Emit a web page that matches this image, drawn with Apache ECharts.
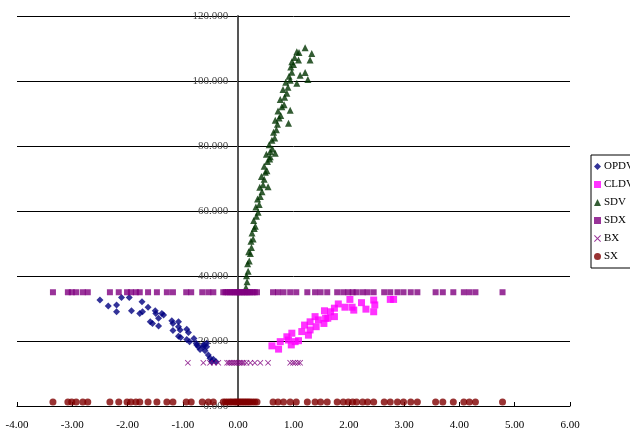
<!DOCTYPE html>
<html>
<head>
<meta charset="utf-8">
<script src="https://cdn.jsdelivr.net/npm/echarts@6/dist/echarts.min.js"></script>
<style>
  html, body { margin: 0; padding: 0; background: #fff; }
  #chart { width: 630px; height: 432px; }
</style>
</head>
<body>
<div id="chart"></div>
<script>
// Axis tick settings
const xTicks = { min: -4, max: 6, step: 1 };
const yTicks = { min: 0, max: 120, step: 20 };

// Opening (OPDV) points: [x, y]
const opdv = [
  [-2.50,32.6],[-2.35,30.8],[-2.20,31.1],[-2.20,29.0],[-2.11,33.4],[-1.97,33.4],
  [-1.93,29.3],[-1.74,32.1],[-1.78,28.5],[-1.73,29.0],[-1.63,30.4],[-1.50,29.3],
  [-1.49,28.5],[-1.59,25.9],[-1.55,25.4],[-1.44,27.0],[-1.44,24.6],[-1.38,28.5],
  [-1.35,28.0],[-1.20,26.2],[-1.18,25.4],[-1.18,23.2],[-1.08,25.9],[-1.08,24.4],
  [-1.05,23.4],[-1.08,21.5],[-1.04,21.1],[-0.93,23.6],[-0.90,22.6],[-0.93,20.5],
  [-0.88,19.8],[-0.80,20.8],[-0.76,19.3],[-0.72,18.2],[-0.63,18.8],[-0.69,17.4],
  [-0.60,17.0],[-0.54,15.7],[-0.51,14.7],[-0.45,14.4],[-0.40,13.6],[-0.48,13.6],
  [-0.57,18.2],[-0.63,18.2],[-0.57,19.3],[-0.75,18.8]
];

// Closing (CLDV) points: [x, y]
const cldv = [
  [0.61,18.5],[0.73,17.5],[0.76,19.8],[0.88,21.3],[0.91,20.3],[0.96,18.8],
  [0.97,22.4],[1.03,19.8],[1.09,20.1],[1.15,22.9],[1.20,24.9],[1.27,21.8],
  [1.30,23.4],[1.30,25.9],[1.39,27.5],[1.41,24.4],[1.45,26.5],[1.55,25.4],
  [1.58,27.0],[1.56,29.3],[1.62,27.0],[1.67,29.0],[1.74,27.5],[1.74,30.1],
  [1.81,31.4],[1.93,30.4],[2.02,32.8],[2.06,30.4],[2.09,29.5],[2.23,31.8],
  [2.31,29.8],[2.45,32.6],[2.47,31.1],[2.45,29.0],[2.75,32.8],[2.81,32.8]
];

// SDV points: [x, y]
const sdv = [
  [0.14,36.5],[0.16,38.2],[0.15,40.1],[0.18,41.5],[0.17,43.8],[0.20,44.6],
  [0.22,46.9],[0.19,47.5],[0.24,48.8],[0.23,50.7],[0.27,51.4],[0.25,53.2],
  [0.29,54.6],[0.31,55.3],[0.28,57.1],[0.33,58.4],[0.36,59.6],[0.32,61.2],
  [0.38,62.0],[0.35,63.7],[0.40,64.5],[0.43,65.9],[0.39,67.3],[0.54,67.5],
  [0.45,68.1],[0.47,69.8],[0.42,70.6],[0.49,71.9],[0.52,72.4],[0.47,73.8],
  [0.53,75.2],[0.57,76.0],[0.58,76.7],[0.67,77.8],[0.51,77.5],[0.58,78.3],
  [0.62,79.1],[0.56,80.4],[0.61,81.8],[0.66,82.5],[0.64,84.2],[0.69,85.0],
  [0.71,86.7],[0.91,87.0],[0.67,87.9],[0.74,88.6],[0.77,89.4],[0.72,90.8],
  [0.94,91.0],[0.79,92.1],[0.83,92.7],[0.76,94.3],[0.84,95.0],[0.88,96.2],
  [0.81,97.4],[0.90,98.1],[0.86,99.6],[0.94,100.2],[1.06,99.3],[0.92,101.5],
  [1.12,101.8],[0.97,102.7],[1.21,102.6],[1.26,100.5],[0.95,104.3],[1.00,105.1],
  [0.97,105.9],[1.09,106.5],[1.02,107.2],[1.30,106.5],[1.33,108.5],[1.06,109.0],
  [1.10,108.8],[1.21,110.2]
];

// Station positions shared by the SDX and SX rows
const stationX = [
  -3.35,-3.08,-3.01,-2.93,-2.81,-2.72,-2.32,-2.16,-2.01,-1.94,-1.85,-1.78,
  -1.63,-1.47,-1.29,-1.18,-0.94,-0.85,-0.65,-0.54,-0.45,
  -0.27,-0.23,-0.19,-0.15,-0.12,-0.08,-0.05,-0.02,0.01,0.04,0.07,0.10,
  0.13,0.16,0.19,0.22,0.26,0.30,0.34,
  0.63,0.72,0.82,0.94,1.05,1.25,1.39,1.49,1.61,1.79,1.90,1.99,2.07,2.14,
  2.25,2.34,2.45,2.64,2.75,2.88,2.99,3.12,3.24,3.57,3.70,3.89,4.08,4.18,
  4.29,4.78
];
const sdxLevel = 35;
const sxLevel = 1.2;

// BX positions
const bxX = [
  -0.91,-0.63,-0.51,-0.44,-0.36,
  -0.20,-0.17,-0.14,-0.11,-0.08,-0.05,-0.02,0.01,0.04,0.07,0.10,
  0.15,0.22,0.30,0.40,0.54,0.94,0.99,1.03,1.08,1.12
];
const bxLevel = 13.3;

const seriesNames = ['OPDV', 'CLDV', 'SDV', 'SDX', 'BX', 'SX'];

const xMark = 'path://M0,1L1,0L5,4L9,0L10,1L6,5L10,9L9,10L5,6L1,10L0,9L4,5Z';
const font = 'Liberation Serif, Times New Roman, serif';
const gridLeft = 17;

const chart = echarts.init(document.getElementById('chart'), null, { renderer: 'canvas' });

chart.setOption({
  animation: false,
  backgroundColor: '#ffffff',
  grid: { left: gridLeft, right: 60, top: 16, bottom: 26, containLabel: false, outerBoundsMode: 'none' },
  legend: {
    orient: 'vertical',
    left: 591,
    top: 155,
    padding: [6, 40, 6, 3],
    borderColor: '#000',
    borderWidth: 1,
    itemWidth: 7,
    itemHeight: 7,
    itemGap: 7,
    data: seriesNames,
    textStyle: { fontFamily: font, fontSize: 11, color: '#000', padding: [0, 0, 0, -2] }
  },
  xAxis: {
    type: 'value',
    min: xTicks.min,
    max: xTicks.max,
    interval: xTicks.step,
    axisLine: { onZero: false, lineStyle: { color: '#000', width: 1 } },
    axisTick: { show: true, inside: true, length: 4, lineStyle: { color: '#000' } },
    axisLabel: {
      margin: 14,
      fontFamily: font,
      fontSize: 11,
      color: '#000',
      formatter: v => v.toFixed(2)
    },
    splitLine: { show: false }
  },
  yAxis: {
    type: 'value',
    min: yTicks.min,
    max: yTicks.max,
    interval: yTicks.step,
    axisLine: { show: true, onZero: false, lineStyle: { color: '#555', width: 2 } },
    axisTick: { show: true, inside: true, length: 4, lineStyle: { color: '#000' } },
    axisLabel: {
      margin: 10,
      fontFamily: font,
      fontSize: 11,
      color: '#444',
      formatter: v => v.toFixed(3)
    },
    splitLine: { show: true, lineStyle: { color: '#000', width: 1 } }
  },
  series: [
    {
      name: 'OPDV', type: 'scatter', symbol: 'diamond', symbolSize: 7,
      itemStyle: { color: '#000080' }, data: opdv
    },
    {
      name: 'CLDV', type: 'scatter', symbol: 'rect', symbolSize: 7,
      itemStyle: { color: '#ff00ff' }, data: cldv
    },
    {
      name: 'SDV', type: 'scatter', symbol: 'triangle', symbolSize: 7,
      itemStyle: { color: '#003300' }, data: sdv
    },
    {
      name: 'SDX', type: 'scatter', symbol: 'rect', symbolSize: 6,
      itemStyle: { color: '#800080' }, data: stationX.map(x => [x, sdxLevel])
    },
    {
      name: 'BX', type: 'scatter', symbol: xMark, symbolSize: 6,
      itemStyle: { color: '#800080' }, data: bxX.map(x => [x, bxLevel])
    },
    {
      name: 'SX', type: 'scatter', symbol: 'circle', symbolSize: 7,
      itemStyle: { color: '#800000' }, data: stationX.map(x => [x, sxLevel])
    }
  ]
});

// Move the value axis (line, ticks and labels) to where x = 0 sits.
const zeroPx = chart.convertToPixel({ xAxisIndex: 0 }, 0);
chart.setOption({ yAxis: { offset: gridLeft - zeroPx } });
</script>
</body>
</html>
